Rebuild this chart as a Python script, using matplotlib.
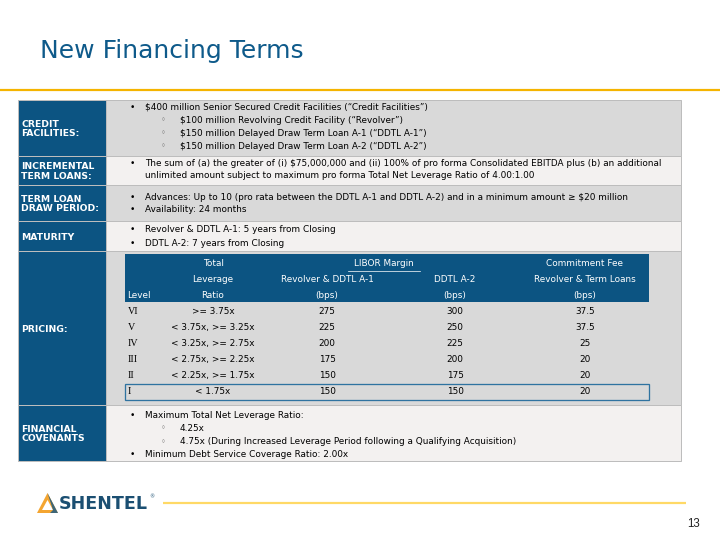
import numpy as np
import matplotlib
matplotlib.use("Agg")
import matplotlib.pyplot as plt
from matplotlib.patches import Rectangle, Polygon

#===================== content =====================
title = "New Financing Terms"
row_labels = ["CREDIT\nFACILITIES:", "INCREMENTAL\nTERM LOANS:", "TERM LOAN\nDRAW PERIOD:",
              "MATURITY", "PRICING:", "FINANCIAL\nCOVENANTS"]

# (indent level, text) -- level 0 bullet, 1 sub-bullet, -1 continuation line
credit_lines = [(0, "$400 million Senior Secured Credit Facilities (\u201cCredit Facilities\u201d)"),
                (1, "$100 million Revolving Credit Facility (\u201cRevolver\u201d)"),
                (1, "$150 million Delayed Draw Term Loan A-1 (\u201cDDTL A-1\u201d)"),
                (1, "$150 million Delayed Draw Term Loan A-2 (\u201cDDTL A-2\u201d)")]
incremental_lines = [(0, "The sum of (a) the greater of (i) $75,000,000 and (ii) 100% of pro forma Consolidated EBITDA plus (b) an additional"),
                     (-1, "unlimited amount subject to maximum pro forma Total Net Leverage Ratio of 4.00:1.00")]
draw_lines = [(0, "Advances: Up to 10 (pro rata between the DDTL A-1 and DDTL A-2) and in a minimum amount \u2265 $20 million"),
              (0, "Availability: 24 months")]
maturity_lines = [(0, "Revolver & DDTL A-1: 5 years from Closing"),
                  (0, "DDTL A-2: 7 years from Closing")]
covenant_lines = [(0, "Maximum Total Net Leverage Ratio:"),
                  (1, "4.25x"),
                  (1, "4.75x (During Increased Leverage Period following a Qualifying Acquisition)"),
                  (0, "Minimum Debt Service Coverage Ratio: 2.00x")]

# pricing grid
levels = ["VI", "V", "IV", "III", "II", "I"]
ratios = [">= 3.75x", "< 3.75x, >= 3.25x", "< 3.25x, >= 2.75x", "< 2.75x, >= 2.25x",
          "< 2.25x, >= 1.75x", "< 1.75x"]
margin_a1 = [275, 225, 200, 175, 150, 150]
margin_a2 = [300, 250, 225, 200, 175, 150]
commit_fee = ["37.5", "37.5", "25", "20", "20", "20"]

#===================== styling =====================
blue = "#0C5482"
gray_row = "#D9D9D9"
light_row = "#F3F1F0"
border = "#BDBDBD"
body_font = "DejaVu Sans"
fs = 8.9

fig = plt.figure(figsize=(10, 7.5), dpi=72)
ax = fig.add_axes([0, 0, 1, 1])
ax.set_xlim(0, 720)
ax.set_ylim(540, 0)
ax.axis("off")


def txt(x, y, s, **kw):
    kw.setdefault("fontsize", fs)
    kw.setdefault("family", body_font)
    kw.setdefault("va", "center")
    ax.text(x, y, s, parse_math=False, **kw)


# title + top rule
txt(40, 51, title, fontsize=25, color="#0E5A8A")
ax.plot([0, 720], [90, 90], color="#F5B400", lw=2.2, solid_capstyle="butt")

# table rows: (top, bottom, content lines, first line y, line step)
x0, x1, x2 = 18, 106, 681
rows = [(100, 156, credit_lines, 107, 13.1),
        (156, 185, incremental_lines, 164, 11),
        (185, 221, draw_lines, 197, 13),
        (221, 251, maturity_lines, 230, 13),
        (251, 405, [], 0, 0),
        (405, 461, covenant_lines, 415, 13.3)]

for i, (top, bot, lines, ly, step) in enumerate(rows):
    bg = gray_row if i % 2 == 0 else light_row
    ax.add_patch(Rectangle((x1, top), x2 - x1, bot - top, facecolor=bg, edgecolor=border, lw=1))
    ax.add_patch(Rectangle((x0, top), x1 - x0, bot - top, facecolor=blue, edgecolor=border, lw=1))
    txt(21, (top + bot) / 2 + 1, row_labels[i], color="white", fontweight="bold",
        fontsize=9.2, linespacing=1.1)
    for k, (lev, s) in enumerate(lines):
        y = ly + k * step
        if lev == 0:
            txt(130, y, "\u2022", fontsize=9)
            txt(145, y, s)
        elif lev == 1:
            txt(161, y, "\u25e6", fontsize=8, color="#666666")
            txt(180, y, s)
        else:
            txt(145, y, s)

# pricing grid
gx0, gx1 = 125, 649
ax.add_patch(Rectangle((gx0, 254), gx1 - gx0, 48, facecolor=blue, edgecolor="none"))
col_x = [127, 213, 327, 455, 585]
head = [("", "", "Level"), ("Total", "Leverage", "Ratio"),
        ("", "Revolver & DDTL A-1", "(bps)"), ("", "DDTL A-2", "(bps)"),
        ("Commitment Fee", "Revolver & Term Loans", "(bps)")]
for j, h in enumerate(head):
    for r, s in enumerate(h):
        if s:
            txt(col_x[j], 264 + r * 16, s, color="white",
                ha="left" if j == 0 else "center")
txt(384, 264, "LIBOR Margin", color="white", ha="center")
ax.plot([348, 420], [270.5, 270.5], color="white", lw=0.7)

for r in range(len(levels)):
    y = 311 + r * 16.2
    txt(128, y, levels[r], family="Liberation Serif", fontsize=10)
    txt(col_x[1], y, ratios[r], ha="center")
    txt(col_x[2], y, str(margin_a1[r]), ha="center")
    txt(col_x[3], y, str(margin_a2[r]), ha="center")
    txt(col_x[4], y, commit_fee[r], ha="center")
ax.add_patch(Rectangle((gx0, 384), gx1 - gx0, 16, facecolor="none", edgecolor="#2F73A0", lw=1.3))

# footer: logo, rule, page number
ax.add_patch(Polygon([(37, 513), (47.5, 493), (58, 513)], closed=True, facecolor="#F4A531", edgecolor="none"))
ax.add_patch(Polygon([(42, 510), (47.5, 500), (53, 510)], closed=True, facecolor="white", edgecolor="none"))
ax.add_patch(Polygon([(47.5, 493), (58, 513), (50, 513), (53, 510)], closed=True, facecolor="#1E5B84", edgecolor="none", alpha=0.85))
txt(59, 504, "SHENTEL", family="DejaVu Sans", fontsize=17.5, fontweight="bold", color="#1B4F72")
txt(149, 497, "\u00ae", fontsize=5, color="#1B4F72")
ax.plot([163, 686], [503, 503], color="#FFD966", lw=2.2, solid_capstyle="butt")
txt(687, 524, "13", family="Liberation Sans", fontsize=11.5, color="#222222")

plt.savefig("out.png", dpi=72)
